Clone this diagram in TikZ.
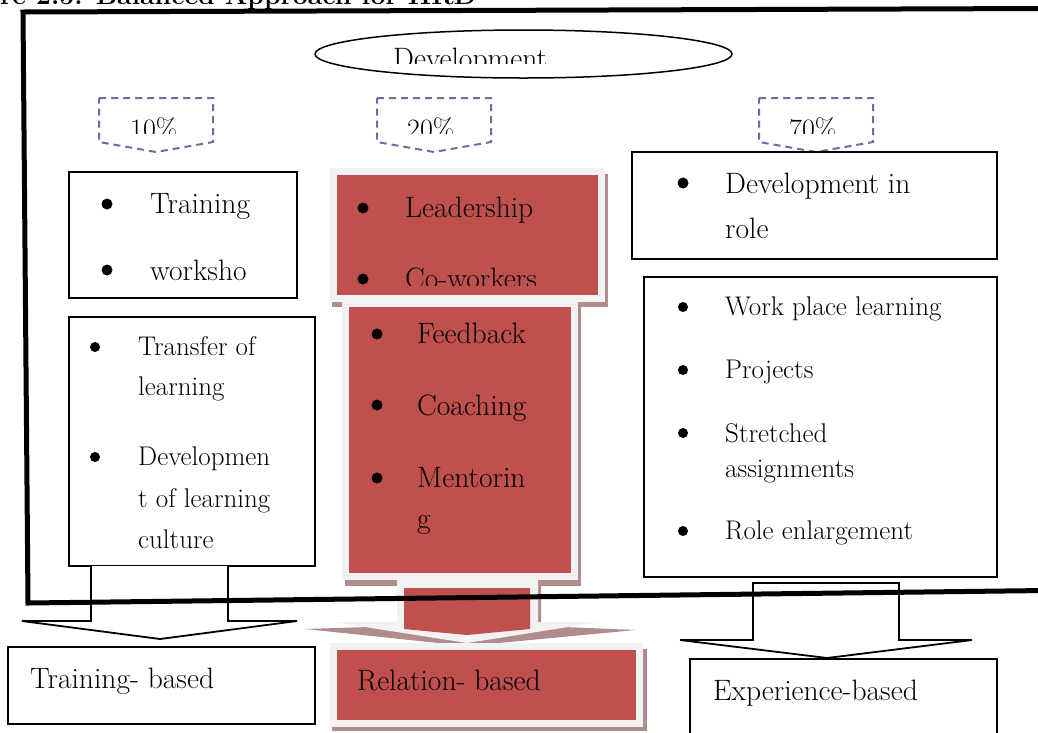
\documentclass[tikz,border=0pt]{standalone}
\usetikzlibrary{positioning,calc}
\definecolor{boxred}{HTML}{C0504D}
\definecolor{paleg}{HTML}{F2F2F2}
\definecolor{hatchred}{RGB}{176,140,140}
\definecolor{pctpurple}{HTML}{8064A2}
\tikzset{
  framebox/.style={draw, line width=1.8, fill=white, anchor=north west, inner sep=0pt, outer sep=0pt},
  redbox/.style={fill=boxred, draw=paleg, line width=7, anchor=north west, inner sep=0pt, outer sep=0pt},
  txt/.style={anchor=base west, inner sep=0pt},
  pctbox/.style={draw=pctpurple, line width=2, dash pattern=on 7pt off 5pt},
  blockarrow/.style={draw, line width=1.8, fill=white, line join=miter},
  bigframe/.style={line width=5, line join=miter}
}

\begin{document}
\begin{tikzpicture}[x=1pt,y=-1pt]
  \def\fbig{\fontsize{29.5}{34}\selectfont}
  \def\fsmall{\fontsize{27}{31}\selectfont}
  \useasboundingbox (0,0) rectangle (1038,732);

  % title, cut by the page edge
  \node[txt, font=\fontsize{26.6}{30}\selectfont\bfseries] (title) at (0,4) {re 2.5: Balanced Approach for HRD};

  % top ellipse
  \draw[line width=1.5] (523.5,54) ellipse [x radius=208.5pt, y radius=24pt];
  \begin{scope}
    \clip (320,30) rectangle (730,63);
    \node[txt, font=\fbig] (devtxt) at (393,68) {Development};
  \end{scope}

  % percentage callouts
  \foreach \px/\tx/\lab in {99/130/10, 377/407/20, 759/789/70} {
    \draw[pctbox] (\px,98) -- ++(114,0) -- ++(0,44) -- ++(-57,10) -- ++(-57,-10) -- cycle;
    \begin{scope}
      \clip (\px,100) rectangle ++(114,33);
      \node[txt, font=\fontsize{28}{32}\selectfont] (pct\lab) at (\tx,138) {\lab\%};
    \end{scope}
  }

  % shadows of the red boxes
  \fill[hatchred] (332,174) rectangle (608,307);
  \fill[hatchred] (345,303) rectangle (581,586);
  \fill[hatchred] (332,649) rectangle (647,731);

  % boxes
  \node[framebox, minimum width=228, minimum height=126] (trainbox) at (69,172) {};
  \node[framebox, minimum width=246, minimum height=249] (transbox) at (69,317) {};
  \node[redbox, minimum width=268, minimum height=127] (leadbox) at (333.5,171.5) {};
  \node[redbox, minimum width=229, minimum height=273] (feedbox) at (345.5,303.5) {};
  \node[framebox, minimum width=365, minimum height=107] (rolebox) at (632,152) {};
  \node[framebox, minimum width=353, minimum height=300] (workbox) at (644,277) {};

  % block arrows
  \draw[blockarrow] (91,566) -- (91,621) -- (22,621) -- (160,639) -- (297,621) -- (228,621) -- (228,566);
  \draw[blockarrow] (753,583) -- (899,583) -- (899,640) -- (972,640) -- (827,658) -- (680,640) -- (753,640) -- cycle;
  \fill[hatchred] (400,584) -- (541,584) -- (541,626) -- (636,630) -- (467,646) -- (305,629) -- (400,626) -- cycle;
  \fill[paleg] (397,580) -- (538,580) -- (538,622) -- (600,622) -- (467,643) -- (333,622) -- (397,622) -- cycle;
  \fill[boxred] (404,588) -- (530,588) -- (530,629) -- (467,635) -- (404,629) -- cycle;

  % result boxes
  \node[framebox, minimum width=307, minimum height=77] (trbased) at (8,647) {};
  \node[redbox, minimum width=306, minimum height=77] (relbased) at (333.5,646.5) {};
  \node[framebox, minimum width=307, minimum height=90] (expbased) at (690,659) {};

  % bullets
  \foreach \bx/\by in {107/204, 107/270, 363/208, 363/279, 377/334, 377/405, 377/478, 683/183}
    \fill (\bx,\by) circle (5.5pt);
  \foreach \bx/\by in {95/347, 95/457, 683/307, 683/370, 683/433, 683/531}
    \fill (\bx,\by) circle (5pt);

  % texts
  \foreach \t/\yy [count=\i] in {Training/213, worksho/280}
    \node[txt, font=\fbig] (tr\i) at (150,\yy) {\t};
  \foreach \t/\yy [count=\i] in {Transfer of/355, learning/395, Developmen/465, t of learning/507, culture/548}
    \node[txt, font=\fsmall] (tf\i) at (138,\yy) {\t};
  \node[txt, font=\fbig] (lead) at (405,217) {Leadership};
  \begin{scope}
    \clip (337,250) rectangle (598,285);
    \node[txt, font=\fbig] (cowork) at (405,288) {Co-workers};
  \end{scope}
  \foreach \t/\yy [count=\i] in {Feedback/343, Coaching/415, Mentorin/487, g/528}
    \node[txt, font=\fbig] (fb\i) at (417,\yy) {\t};
  \foreach \t/\yy [count=\i] in {Development in/193, role/238}
    \node[txt, font=\fbig] (ro\i) at (725,\yy) {\t};
  \foreach \t/\yy [count=\i] in {Work place learning/315, Projects/378, Stretched/442, assignments/477, Role enlargement/539}
    \node[txt, font=\fsmall] (wp\i) at (725,\yy) {\t};
  \node[txt, font=\fbig] (trtxt) at (30,688) {Training- based};
  \node[txt, font=\fbig] (reltxt) at (357,690) {Relation- based};
  \node[txt, font=\fbig] (exptxt) at (713,700) {Experience-based};

  % thick outer frame on top
  \draw[bigframe] (1045,8.5) -- (23,12) -- (28,603) -- (1045,590.5);
\end{tikzpicture}
\end{document}
